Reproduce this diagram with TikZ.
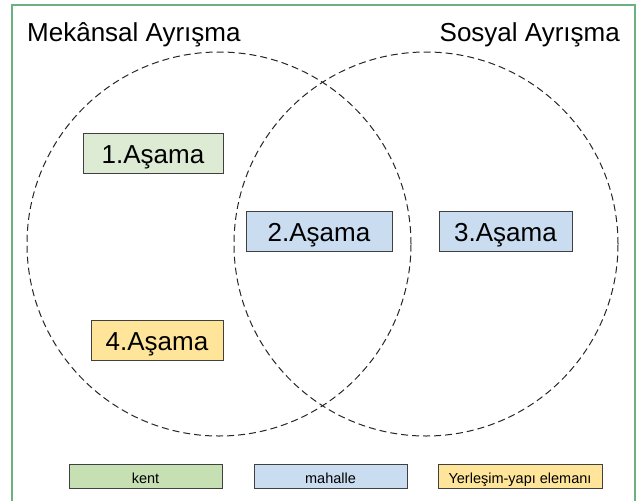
\documentclass[tikz,border=0pt]{standalone}
\usepackage{fontspec}
\setmainfont{Liberation Sans}
\definecolor{frameGreen}{RGB}{106,178,128}
\definecolor{stageGreen}{RGB}{221,235,213}
\definecolor{keyGreen}{RGB}{198,224,180}
\definecolor{stageBlue}{RGB}{201,220,240}
\definecolor{stageYellow}{RGB}{255,229,153}
\tikzset{
	setcircle/.style={circle, draw=black!85, dash pattern=on 7pt off 4pt, line width=1pt, minimum size=384pt, inner sep=0pt},
	stagebox/.style={draw=black!75, line width=0.9pt, minimum height=40pt, inner sep=0pt, text height=20pt, text depth=0pt, font=\fontsize{26}{30}\selectfont},
	keybox/.style={draw=black!75, line width=0.9pt, minimum width=153pt, minimum height=24pt, inner sep=0pt, text height=14pt, text depth=0pt, font=\fontsize{14.5}{16}\selectfont},
	settitle/.style={inner sep=0pt, font=\fontsize{26}{30}\selectfont}
}
\begin{document}
\begin{tikzpicture}[x=1pt,y=-1pt]
				\useasboundingbox (0,0) rectangle (639,501);
				\draw[frameGreen, line width=1.5pt] (12,501) -- (12,5) -- (635,5) -- (635,501);
				% the two sets
				\node[setcircle] (spatial) at (219,244) {};
				\node[setcircle] (social) at (426,244) {};
				\node[settitle, anchor=base west] (spatialtitle) at (27,41) {Mekânsal Ayrışma};
				\node[settitle, anchor=base east] (socialtitle) at (620,41) {Sosyal Ayrışma};
				% stages
				\node[stagebox, fill=stageGreen, minimum width=140pt] (stage1) at (153,153) {1.Aşama};
				\node[stagebox, fill=stageBlue, minimum width=146pt] (stage2) at (319,231) {2.Aşama};
				\node[stagebox, fill=stageBlue, minimum width=133pt] (stage3) at (505.5,231) {3.Aşama};
				\node[stagebox, fill=stageYellow, minimum width=132pt] (stage4) at (157,340) {4.Aşama};
				% legend
				\foreach \x/\w/\c/\t/\n in {145.5/153/keyGreen/kent/city, 330.5/153/stageBlue/mahalle/district, 520/164/stageYellow/Yerleşim-yapı elemanı/building}{
					\node[keybox, fill=\c, minimum width=\w pt] (key\n) at (\x,476) {\t};
				}
			\end{tikzpicture}
\end{document}
